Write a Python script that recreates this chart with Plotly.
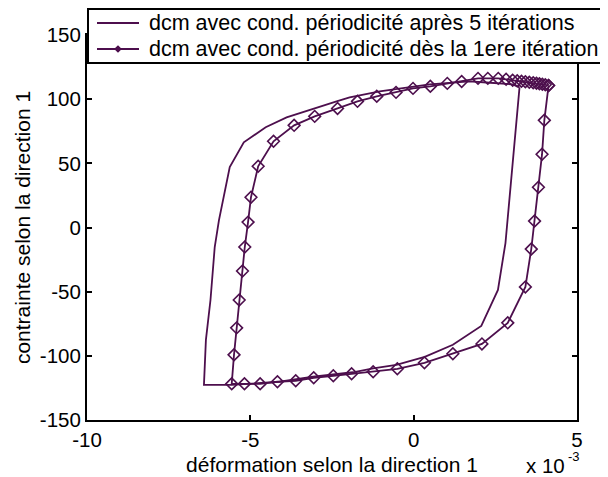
import plotly.graph_objects as go

# Strain (x 1e-3) and stress values, series 1: periodicity condition after 5 iterations
strain_apres5 = [3.24, 3.12, 2.98, 2.81, 2.58, 2.07, 1.20, 0.34, -0.53, -1.24, -1.86, -3.08, -4.10,
                 -5.57, -6.42, -6.36, -6.22, -6.09, -5.96, -5.83, -5.63, -5.20, -4.53, -3.89,
                 -2.98, -2.36, -1.96, -1.04, 0.49, 1.71, 2.23, 3.03, 3.24]
stress_apres5 = [109.2, 75.7, 36.9, -12.1, -48.7, -76.7, -91.4, -100.8, -107.0, -109.7, -112.8,
                 -116.3, -120.2, -122.6, -122.6, -87.6, -56.5, -15.2, 5.8, 21.3, 47.0, 66.4,
                 78.1, 85.8, 93.6, 98.3, 101.4, 106.1, 111.5, 113.8, 113.0, 111.5, 109.2]

# Series 2: periodicity condition from the 1st iteration
strain_des1 = [4.13, 4.00, 3.93, 3.82, 3.70, 3.60, 3.42, 2.88, 2.09, 1.20, 0.33, -0.50, -1.24,
               -1.90, -2.46, -3.06, -3.61, -4.17, -4.70, -5.18, -5.57, -5.50, -5.42, -5.34,
               -5.24, -5.17, -5.07, -4.98, -4.76, -4.29, -3.66, -3.03, -2.33, -1.72, -1.13,
               -0.54, -0.02, 0.51, 1.03, 1.47, 1.97, 2.27, 2.59, 2.83, 3.03, 3.17, 3.30,
               3.42, 3.54, 3.66, 3.76, 3.85, 3.94, 4.03, 4.13]
stress_des1 = [110.7, 83.5, 57.1, 31.4, 5.0, -16.8, -46.3, -74.3, -90.7, -98.4, -105.4, -110.1,
               -112.4, -114.0, -115.5, -117.1, -119.4, -120.2, -121.8, -121.8, -121.8, -99.2,
               -78.2, -56.5, -33.9, -15.2, 4.2, 23.6, 47.7, 67.2, 79.6, 86.6, 92.8, 98.3,
               102.2, 105.3, 108.4, 110.0, 112.3, 113.8, 116.2, 116.2, 116.2, 115.5, 114.8,
               114.4, 114.0, 113.6, 113.2, 112.8, 112.4, 112.0, 111.6, 111.2, 110.7]

series_names = ["dcm avec cond. périodicité après 5 itérations",
                "dcm avec cond. périodicité dès la 1ere itération"]

x_ticks = [-10, -5, 0, 5]
x_ticklabels = ["-10", "-5", "0", "5"]
y_ticks = [-150, -100, -50, 0, 50, 100, 150]
y_ticklabels = ["-150", "-100", "-50", "0", "50", "100", "150"]

color = "#4d0f4d"
font_family = "Liberation Sans, Arial, sans-serif"
tick_size = 20.5
legend_size = 21.5
title_size = 21

fig = go.Figure()
fig.add_trace(go.Scatter(
    x=strain_apres5, y=stress_apres5, mode="lines", name=series_names[0],
    line=dict(color=color, width=1.8), showlegend=False))
fig.add_trace(go.Scatter(
    x=strain_des1, y=stress_des1, mode="lines+markers", name=series_names[1],
    line=dict(color=color, width=1.8), showlegend=False,
    marker=dict(symbol="diamond-open", size=9, color=color, line=dict(width=1.6, color=color))))

axis_common = dict(showgrid=False, zeroline=False, showline=True, mirror="ticks",
                   linecolor="black", linewidth=2, ticks="inside", ticklen=5,
                   tickcolor="black", tickwidth=2, automargin=False,
                   tickfont=dict(family=font_family, size=tick_size, color="black"))

# The page body has an 8px margin, so page px = figure px + 8.
OFF = 8
W, H = 608, 477
# plot area on the page: x 87..577, y 35..420
L = 87 - OFF
T = 35 - OFF
pw, ph = 490, 385
R = W - L - pw
B = H - T - ph

def px2paper_x(px):
    return (px - OFF - L) / pw

def px2paper_y(py):
    return (T + ph - (py - OFF)) / ph

fig.update_layout(
    width=W, height=H,
    margin=dict(l=L, r=R, t=T, b=B),
    paper_bgcolor="white", plot_bgcolor="white",
    font=dict(family=font_family, size=tick_size, color="black"),
    xaxis=dict(range=[-10, 5], tickvals=x_ticks, ticktext=x_ticklabels,
               title=dict(text="déformation selon la direction 1", standoff=8,
                          font=dict(size=title_size)), **axis_common),
    yaxis=dict(range=[-150, 150], tickvals=y_ticks, ticktext=y_ticklabels,
               title=dict(text="contrainte selon la direction 1", standoff=4,
                          font=dict(size=title_size)), **axis_common),
    showlegend=False,
)

# Legend box (drawn by hand, extends past right edge as in the reference)
shapes = [
    dict(type="rect", xref="paper", yref="paper", layer="above",
         x0=px2paper_x(88), x1=px2paper_x(640), y0=px2paper_y(63), y1=px2paper_y(9),
         line=dict(color="black", width=2), fillcolor="white"),
    dict(type="line", xref="paper", yref="paper", layer="above",
         x0=px2paper_x(97), x1=px2paper_x(139), y0=px2paper_y(23), y1=px2paper_y(23),
         line=dict(color=color, width=1.8)),
    dict(type="line", xref="paper", yref="paper", layer="above",
         x0=px2paper_x(97), x1=px2paper_x(139), y0=px2paper_y(49), y1=px2paper_y(49),
         line=dict(color=color, width=1.8)),
]
cx, cy, d = 118, 49, 3
shapes.append(dict(
    type="path", xref="paper", yref="paper", layer="above",
    path=(f"M {px2paper_x(cx - d)} {px2paper_y(cy)} L {px2paper_x(cx)} {px2paper_y(cy - d)} "
          f"L {px2paper_x(cx + d)} {px2paper_y(cy)} L {px2paper_x(cx)} {px2paper_y(cy + d)} Z"),
    line=dict(color=color, width=1.2), fillcolor=color))
fig.update_layout(shapes=shapes)

for name, py in zip(series_names, [23, 49]):
    fig.add_annotation(xref="paper", yref="paper", x=px2paper_x(147), y=px2paper_y(py),
                       xanchor="left", yanchor="middle", showarrow=False, text=name,
                       font=dict(family=font_family, size=legend_size, color="black"))

# exponent label "x 10^-3" below the right end of the x axis
fig.add_annotation(xref="paper", yref="paper", x=px2paper_x(567), y=px2paper_y(465),
                   xanchor="right", yanchor="middle", showarrow=False,
                   text="x 10", font=dict(family=font_family, size=tick_size))
fig.add_annotation(xref="paper", yref="paper", x=px2paper_x(566), y=px2paper_y(456),
                   xanchor="left", yanchor="middle", showarrow=False,
                   text="-3", font=dict(family=font_family, size=13))

fig.write_html("out.html")
